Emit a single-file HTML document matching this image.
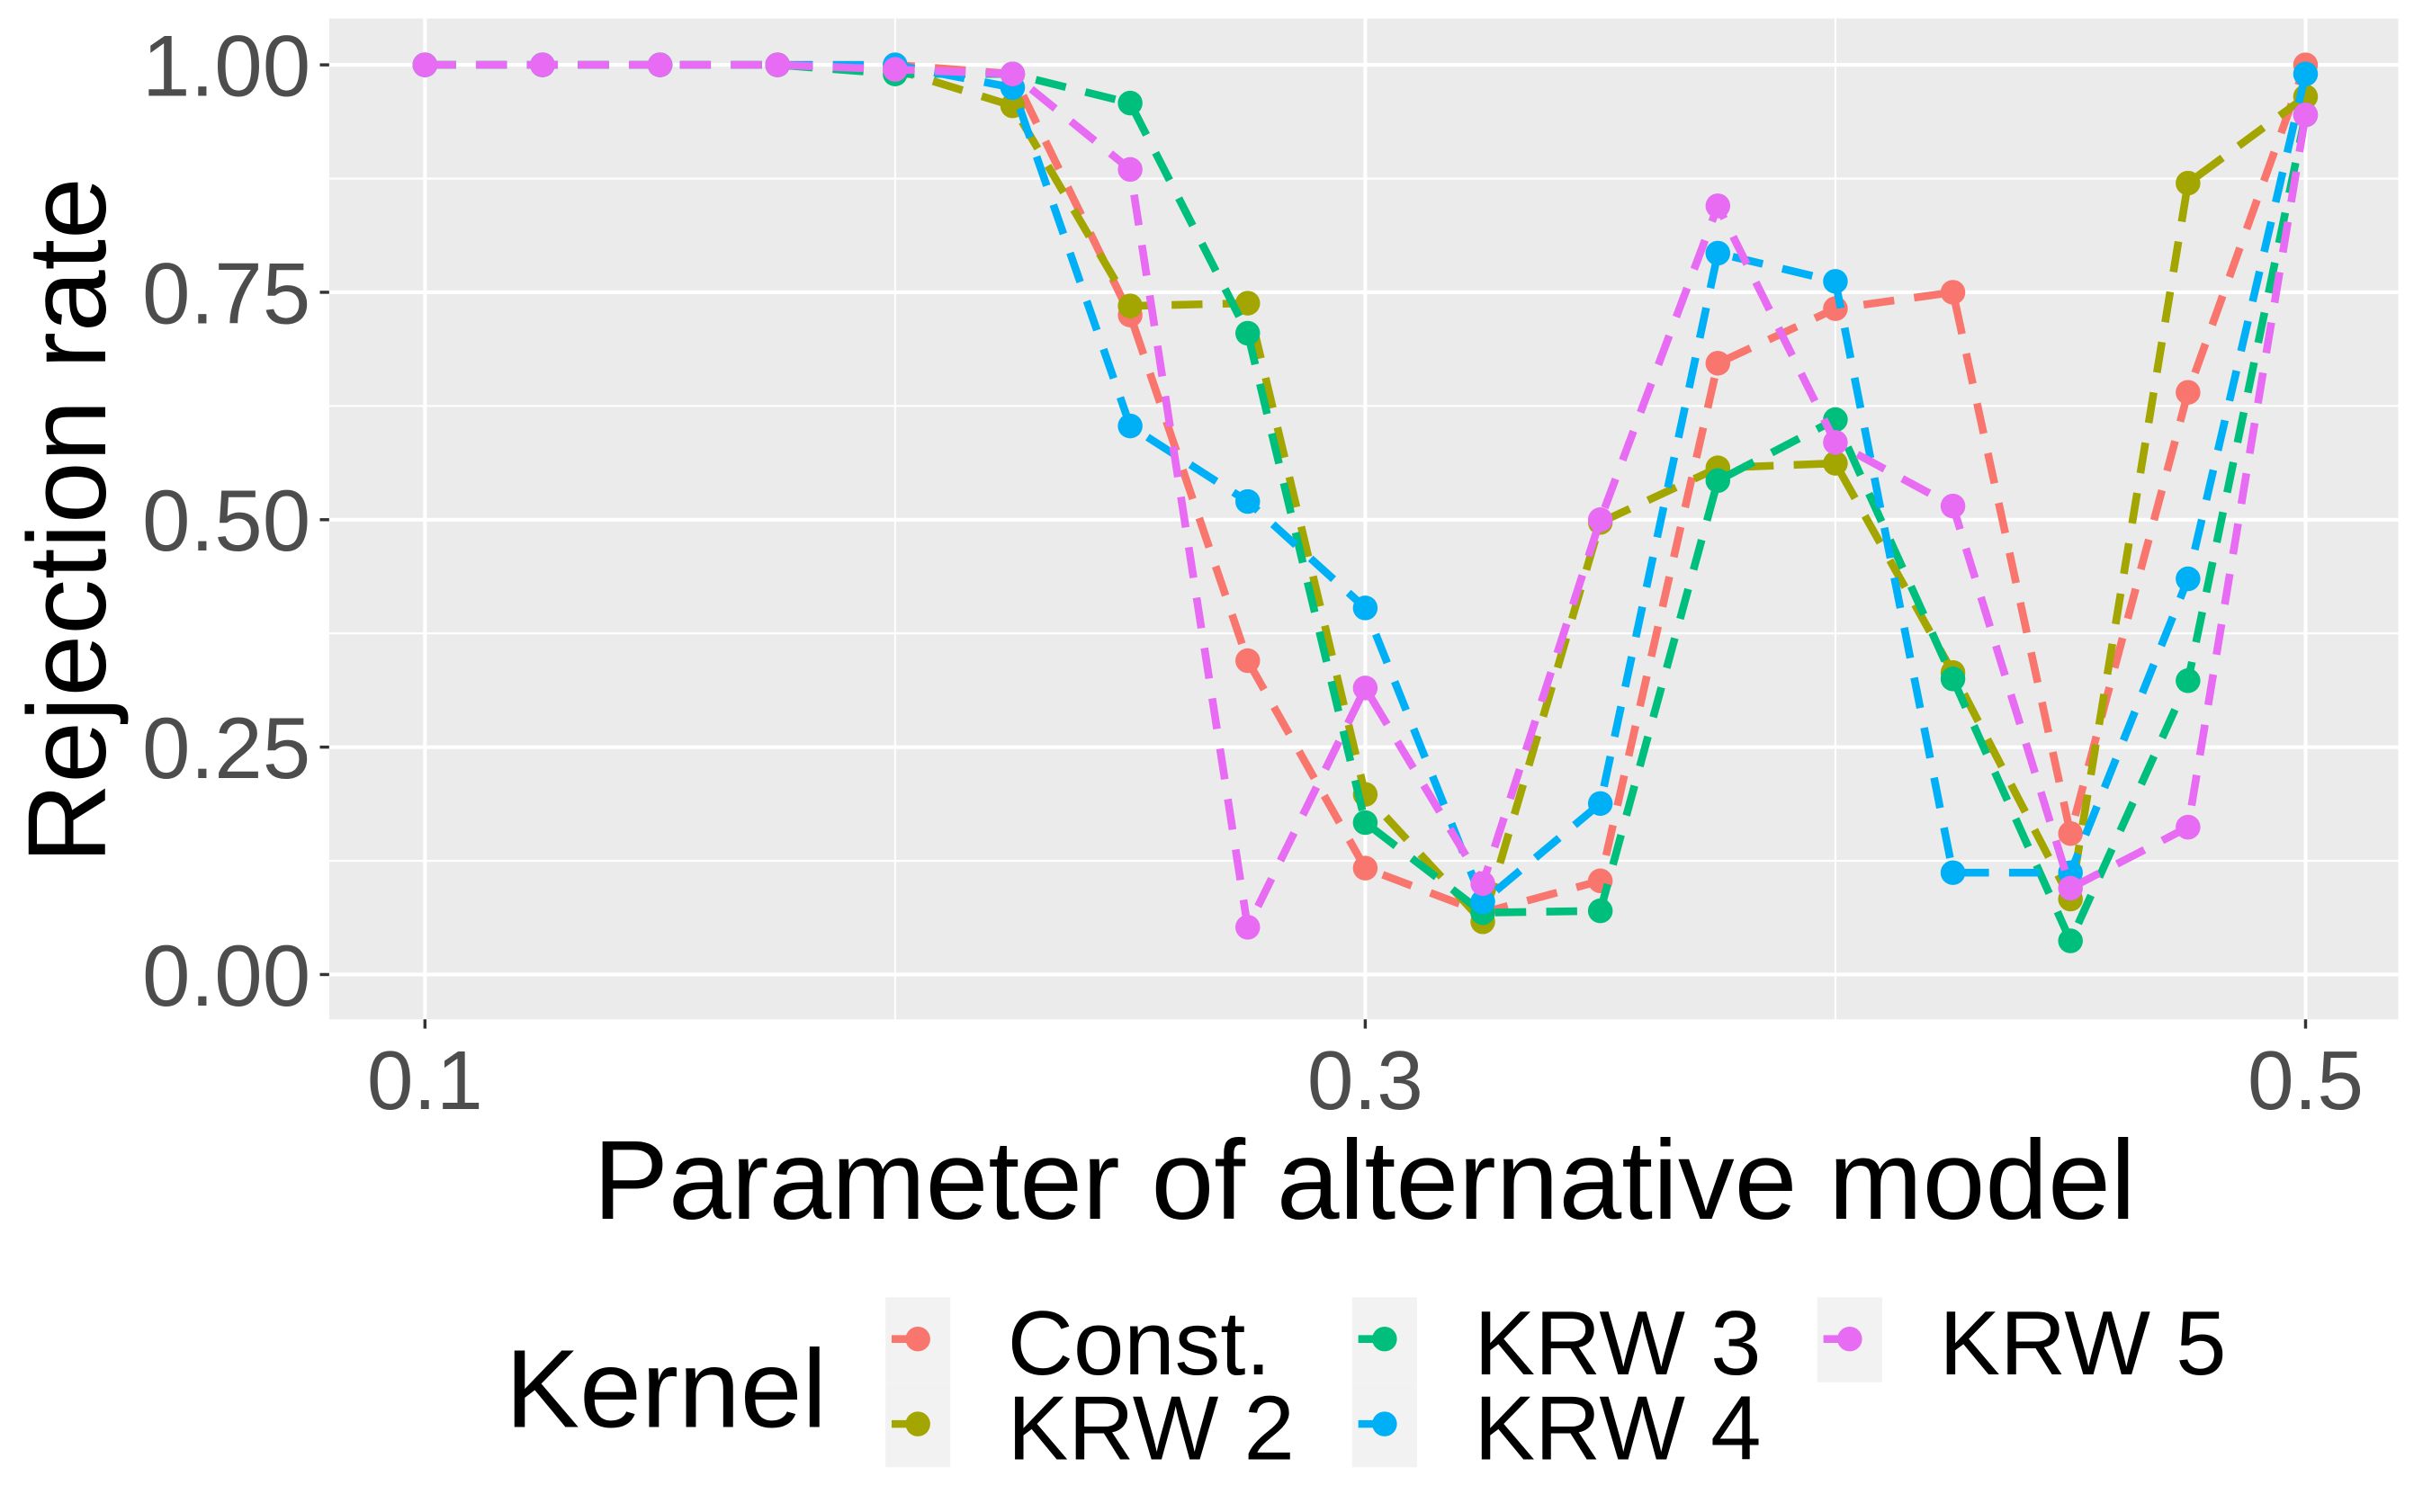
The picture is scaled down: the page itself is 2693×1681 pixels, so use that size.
<!DOCTYPE html>
<html><head><meta charset="utf-8"><style>
html,body{margin:0;padding:0;background:#fff;}
svg{display:block;}
text{font-family:"Liberation Sans",Arial,sans-serif;}
</style></head><body>
<svg id="chart" width="2693" height="1681" viewBox="0 0 1568 979" preserveAspectRatio="none" xmlns="http://www.w3.org/2000/svg">
<rect x="213" y="12" width="1339" height="648" fill="#EBEBEB"/>
<g id="grid"></g>
<g id="series"></g>
<g id="ticks"></g>
<text x="883" y="789" font-size="73" text-anchor="middle" fill="#000">Parameter of alternative model</text>
<text transform="translate(68,337) rotate(-90)" font-size="72" text-anchor="middle" fill="#000">Rejection rate</text>
<text x="327" y="924" font-size="72" fill="#000">Kernel</text>
<g id="legend"></g>
</svg>
<script>
const xs = [0.1,0.125,0.15,0.175,0.2,0.225,0.25,0.275,0.3,0.325,0.35,0.375,0.4,0.425,0.45,0.475,0.5];
const seriesNames = ["Const.","KRW 2","KRW 3","KRW 4","KRW 5"];
const seriesColors = ["#F8766D","#A3A500","#00BF7D","#00B0F6","#E76BF3"];
const constVals = [1,1,1,1,1,0.99,0.725,0.345,0.117,0.068,0.103,0.672,0.732,0.75,0.155,0.64,1.0];
const krw2Vals = [1,1,1,1,0.995,0.955,0.735,0.738,0.198,0.058,0.497,0.557,0.562,0.332,0.083,0.87,0.965];
const krw3Vals = [1,1,1,1,0.99,0.99,0.958,0.705,0.167,0.068,0.07,0.543,0.61,0.325,0.037,0.323,0.945];
const krw4Vals = [1,1,1,1,1,0.975,0.603,0.52,0.403,0.08,0.188,0.793,0.762,0.112,0.112,0.435,0.99];
const krw5Vals = [1,1,1,1,0.995,0.99,0.885,0.052,0.315,0.1,0.5,0.845,0.585,0.515,0.095,0.162,0.945];
const xTicks = [0.1,0.3,0.5];
const xTickLabels = ["0.1","0.3","0.5"];
const yTicks = [0,0.25,0.5,0.75,1];
const yTickLabels = ["0.00","0.25","0.50","0.75","1.00"];

const NS="http://www.w3.org/2000/svg";
const X = v => 275 + (v-0.1)*(1492-275)/0.4;
const Y = v => 631 - v*(631-42);
function mk(tag, attrs, parent){const e=document.createElementNS(NS,tag);for(const k in attrs)e.setAttribute(k,attrs[k]);parent.appendChild(e);return e;}
const grid=document.getElementById('grid');
for(let v=0.125; v<1; v+=0.25){
  const l=mk('line',{x1:213,x2:1552,y1:Y(v),y2:Y(v),stroke:'#fff','stroke-width':1.2},grid);
  
  
}
[0.2,0.4].forEach(v=>{
  const l=mk('line',{x1:X(v),x2:X(v),y1:12,y2:660,stroke:'#fff','stroke-width':1.2},grid);
  
  
});
const ticks=document.getElementById('ticks');
yTicks.forEach((v,i)=>{
  const l=mk('line',{x1:213,x2:1552,y1:Y(v),y2:Y(v),stroke:'#fff','stroke-width':2.4},grid);
  
  
  const t=mk('line',{x1:207,x2:213,y1:Y(v),y2:Y(v),stroke:'#333','stroke-width':2},ticks);
  
  
  const tx=mk('text',{x:201,y:Y(v)+20,'font-size':56,'text-anchor':'end',fill:'#4D4D4D'},ticks);
  tx.textContent=yTickLabels[i];
  
  
});
xTicks.forEach((v,i)=>{
  const l=mk('line',{x1:X(v),x2:X(v),y1:12,y2:660,stroke:'#fff','stroke-width':2.4},grid);
  
  
  const t=mk('line',{x1:X(v),x2:X(v),y1:660,y2:666,stroke:'#333','stroke-width':2},ticks);
  
  
  const tx=mk('text',{x:X(v),y:718,'font-size':54,'text-anchor':'middle',fill:'#4D4D4D'},ticks);
  tx.textContent=xTickLabels[i];
  
  
});
const allVals=[constVals,krw2Vals,krw3Vals,krw4Vals,krw5Vals];
const sg=document.getElementById('series');
allVals.forEach((vals,s)=>{
  const g=mk('g',{},sg);
  
  
  const pts=vals.map((v,i)=>X(xs[i])+','+Y(v)).join(' ');
  const pl=mk('polyline',{points:pts,fill:'none',stroke:seriesColors[s],'stroke-width':5,'stroke-dasharray':'20 13'},g);
  
  
  vals.forEach((v,i)=>{
    const c=mk('circle',{cx:X(xs[i]),cy:Y(v),r:8,fill:seriesColors[s]},g);
    
    
  });
});
const leg=document.getElementById('legend');
const cols=[573,875,1176];
seriesNames.forEach((n,i)=>{
  const col=Math.floor(i/2), row=i%2;
  const kx=cols[col], ky=840+row*55;
  const g=mk('g',{},leg);
  
  
  mk('rect',{x:kx,y:ky,width:42,height:55,fill:'#F2F2F2'},g);
  mk('line',{x1:kx+4,x2:kx+20,y1:ky+27,y2:ky+27,stroke:seriesColors[i],'stroke-width':5},g);
  mk('circle',{cx:kx+21,cy:ky+27,r:8,fill:seriesColors[i]},g);
  const t=mk('text',{x:kx+79,y:ky+50,'font-size':59,fill:'#000'},g);
  t.textContent=n;
});
</script>
</body></html>
